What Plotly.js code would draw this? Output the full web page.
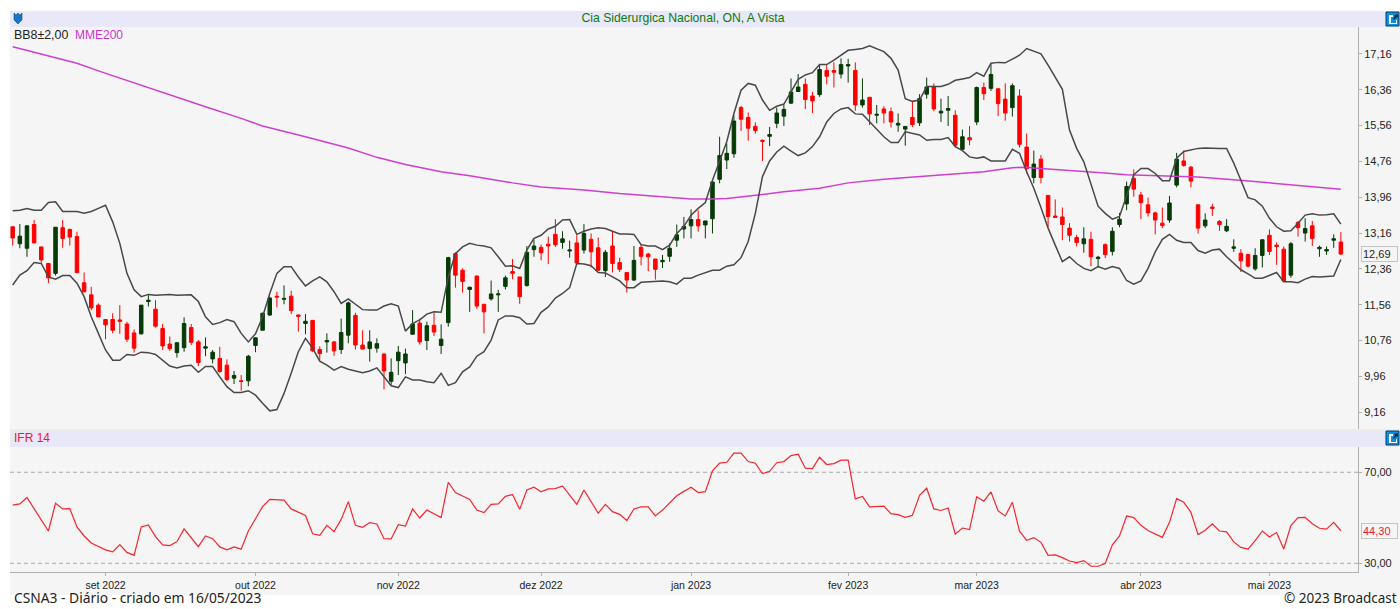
<!DOCTYPE html>
<html><head><meta charset="utf-8">
<script src="https://cdn.plot.ly/plotly-3.0.1.min.js"></script>
<style>html,body{margin:0;padding:0;background:#fff;overflow:hidden}#c{width:1400px;height:609px}</style>
</head><body><div id="c"></div>
<script>
const open=[13.30,12.92,12.82,13.35,12.85,12.48,12.26,13.28,13.24,13.08,
12.05,11.78,11.55,11.23,11.23,11.22,11.13,10.93,10.91,11.63,
11.46,11.03,10.68,10.49,10.60,11.05,10.73,10.59,10.35,10.36,
10.21,9.92,9.86,9.86,10.65,10.99,11.33,11.75,11.68,11.75,
11.33,11.14,11.21,10.56,10.73,10.73,10.56,10.88,11.32,10.66,
10.58,10.59,10.46,9.85,10.31,10.26,10.90,11.15,10.76,11.10,
10.65,11.16,12.70,12.33,11.90,12.20,11.57,11.69,11.78,11.97,
12.30,12.18,11.99,12.79,12.84,12.91,13.13,12.95,12.76,12.94,
12.78,13.02,12.83,12.32,12.87,12.50,12.28,12.11,12.84,12.69,
12.58,12.52,12.64,13.00,13.25,13.32,13.46,13.34,13.48,14.36,
14.79,14.93,15.96,15.74,15.54,15.23,15.32,15.61,15.77,16.06,
16.32,16.48,16.22,16.25,16.79,16.79,16.71,16.89,16.79,16.02,
16.19,15.79,15.93,15.87,15.57,15.48,15.74,15.62,16.26,16.42,
15.84,15.90,15.79,15.03,15.29,15.64,16.41,16.39,16.38,16.15,
15.96,16.22,15.08,14.40,14.81,14.00,13.54,13.52,13.27,13.06,
12.92,13.02,12.59,12.90,12.75,13.35,13.81,14.38,14.01,13.79,
13.61,13.38,13.45,14.23,14.77,14.63,13.79,13.32,13.74,13.42,
13.21,12.82,12.71,12.68,12.36,12.66,13.11,12.89,12.80,12.22,
13.40,13.16,13.32,12.81,12.76,13.00,12.96];
const high=[13.30,13.36,13.34,13.45,12.85,12.48,13.29,13.45,13.26,13.19,
12.28,11.96,11.59,11.23,11.37,11.55,11.18,11.01,11.55,11.78,
11.66,11.13,10.85,10.73,11.28,11.13,10.77,10.83,10.55,10.62,
10.34,10.08,9.99,10.44,10.83,11.38,11.74,11.85,11.99,11.87,
11.34,11.35,11.22,10.63,10.92,10.74,11.25,11.63,11.38,10.99,
10.99,10.81,10.46,10.36,10.64,10.58,11.44,11.25,11.18,11.38,
11.12,12.63,12.73,12.37,11.96,12.21,11.57,12.10,11.89,12.21,
12.58,12.18,12.87,13.02,12.90,13.08,13.47,13.20,12.99,13.11,
13.36,13.15,13.06,12.78,13.19,12.61,12.29,12.87,12.91,12.72,
12.58,12.67,12.93,13.35,13.52,13.69,13.67,13.43,14.33,15.31,
15.16,15.79,16.00,15.85,15.63,15.25,15.53,15.96,16.02,16.61,
16.71,16.61,16.31,16.92,16.91,16.97,17.06,17.05,16.97,16.61,
16.20,16.02,15.99,15.96,15.83,15.55,16.09,16.26,16.63,16.50,
16.16,16.22,15.90,15.47,15.55,16.43,16.52,16.93,16.39,16.50,
16.50,16.37,15.38,15.00,14.90,14.01,13.91,13.73,13.38,13.12,
13.29,13.19,12.65,12.93,13.29,13.61,14.31,14.58,14.08,13.95,
13.64,13.73,13.99,14.95,15.00,14.66,13.79,13.60,13.81,13.45,
13.47,13.02,12.80,12.69,12.82,13.01,13.24,12.95,12.86,12.96,
13.42,13.49,13.43,12.88,12.86,13.13,13.18];
const low=[12.88,12.82,12.63,12.93,12.50,12.04,12.21,12.83,12.88,12.26,
11.83,11.44,11.28,10.79,10.92,10.91,10.73,10.49,10.89,11.52,
11.05,10.55,10.53,10.38,10.51,10.66,10.19,10.41,10.25,10.04,
9.85,9.79,9.64,9.74,10.50,10.99,11.31,11.50,11.57,11.35,
10.96,10.90,10.50,10.32,10.49,10.42,10.46,10.70,10.56,10.57,
10.29,10.49,9.67,9.77,9.99,10.01,10.90,10.67,10.55,10.86,
10.46,11.07,11.94,11.83,11.40,11.47,10.92,11.65,11.40,11.90,
12.13,11.58,11.96,12.63,12.55,12.47,12.85,12.81,12.61,12.48,
12.70,12.39,12.32,12.18,12.28,12.29,11.83,12.09,12.44,12.31,
12.12,12.38,12.52,12.85,13.04,13.04,13.19,13.04,13.15,14.27,
14.59,14.84,15.44,15.22,15.38,14.77,15.10,15.50,15.55,16.04,
16.31,15.93,15.84,16.20,16.48,16.41,16.61,16.52,15.89,15.96,
15.57,15.61,15.61,15.52,15.42,15.11,15.53,15.55,16.16,15.88,
15.64,15.55,15.07,15.01,15.12,15.57,16.13,16.33,15.77,15.67,
15.76,15.07,14.49,14.27,14.27,13.29,13.51,13.00,12.97,12.86,
12.72,12.42,12.39,12.60,12.66,13.29,13.67,13.97,13.47,13.53,
13.13,13.27,13.39,14.18,14.64,14.18,13.15,13.27,13.54,13.21,
13.18,12.74,12.29,12.39,12.32,12.39,12.67,12.45,12.07,12.16,
13.08,12.97,12.87,12.63,12.67,12.83,12.67];
const close=[13.05,13.09,13.32,12.94,12.56,12.16,13.29,13.04,13.07,12.28,
11.85,11.49,11.29,11.11,10.99,11.19,10.79,10.59,11.55,11.66,
11.08,10.64,10.58,10.71,11.14,10.72,10.27,10.62,10.50,10.07,
9.89,9.98,9.85,10.41,10.82,11.37,11.71,11.73,11.70,11.43,
11.30,11.19,10.53,10.47,10.76,10.53,10.94,11.60,10.66,10.57,
10.73,10.69,10.08,10.05,10.50,10.46,11.13,10.73,11.09,10.95,
10.79,12.61,12.22,12.08,11.95,11.53,11.40,11.80,11.80,12.16,
12.26,11.74,12.73,12.87,12.72,12.87,12.90,13.03,12.78,12.49,
13.15,12.74,12.33,12.73,12.48,12.35,12.11,12.55,12.64,12.63,
12.35,12.55,12.82,13.12,13.31,13.46,13.32,13.43,14.30,14.89,
14.94,15.66,15.70,15.50,15.45,15.21,15.36,15.84,15.92,16.31,
16.42,16.14,16.11,16.81,16.66,16.75,16.92,16.92,16.02,16.13,
15.82,15.81,15.84,15.64,15.61,15.54,15.58,16.16,16.42,15.93,
15.88,15.94,15.12,15.31,15.24,16.41,16.27,16.70,16.05,15.84,
16.45,15.14,14.60,14.70,14.40,13.53,13.51,13.35,13.11,12.95,
13.03,12.63,12.62,12.68,13.20,13.47,14.20,14.14,13.84,13.61,
13.45,13.33,13.83,14.81,14.67,14.32,13.27,13.45,13.71,13.35,
13.31,12.85,12.54,12.42,12.66,13.01,12.75,12.86,12.09,12.92,
13.28,13.26,13.04,12.84,12.79,13.03,12.69];
const bbUpper=[13.66,13.67,13.71,13.67,13.67,13.84,13.86,13.64,13.64,13.64,
13.60,13.64,13.71,13.78,13.41,12.93,12.26,11.89,11.74,11.79,
11.77,11.78,11.79,11.77,11.78,11.78,11.63,11.29,11.12,11.16,
11.23,11.18,10.92,10.73,10.91,11.29,11.81,12.26,12.41,12.41,
12.18,11.98,12.09,12.18,12.07,11.85,11.59,11.69,
11.57,11.45,11.44,11.44,11.53,11.58,11.53,10.97,11.14,11.22,
11.35,11.40,11.39,12.18,12.70,12.85,12.93,12.89,12.87,12.83,
12.63,12.42,12.43,12.37,12.78,13.04,13.11,13.25,13.31,13.45,
13.46,13.13,13.20,13.25,13.28,13.26,13.20,13.14,13.14,13.13,
12.90,12.87,12.87,12.79,12.89,13.15,13.31,13.56,
13.71,13.84,14.34,14.75,15.20,15.83,16.35,16.50,16.46,16.13,
15.90,15.99,16.04,16.31,16.59,16.69,16.74,16.92,16.92,17.02,
17.13,17.24,17.26,17.28,17.34,17.28,17.21,17.06,16.80,16.16,
16.10,16.13,16.43,16.43,16.43,16.48,16.57,16.60,16.63,16.74,
16.66,16.95,16.97,16.96,17.04,17.13,17.28,17.22,17.16,16.91,
16.65,16.37,15.46,15.05,14.75,14.27,13.76,13.60,13.47,13.53,
14.01,14.46,14.60,14.60,14.49,14.33,14.33,14.83,14.98,15.01,
15.05,15.06,15.05,15.05,15.05,14.72,14.34,13.95,13.90,13.76,
13.49,13.30,13.20,13.21,13.38,13.56,13.59,13.56,13.57,13.59,13.36];
const bbLower=[12.00,12.22,12.32,12.50,12.48,12.18,12.13,12.21,12.21,12.04,
11.74,11.29,10.92,10.55,10.32,10.32,10.45,10.43,10.50,10.49,
10.45,10.31,10.19,10.15,10.19,10.21,10.05,10.18,10.18,9.95,
9.73,9.60,9.60,9.64,9.54,9.36,9.19,9.22,9.58,10.03,
10.51,10.81,10.59,10.30,10.21,10.10,10.18,10.12,
10.08,10.04,10.08,10.15,9.95,9.75,9.71,9.95,9.88,9.88,
9.84,9.82,10.03,9.76,9.82,10.06,10.17,10.41,10.51,10.77,
11.22,11.31,11.31,11.27,11.13,11.14,11.39,11.51,11.71,11.81,
11.94,12.48,12.47,12.43,12.28,12.27,12.18,12.09,11.94,11.94,
12.06,12.07,12.08,12.09,12.07,12.02,12.15,12.15,
12.22,12.28,12.33,12.33,12.42,12.45,12.61,12.97,13.60,14.42,
14.77,14.97,15.10,14.99,14.89,14.95,15.09,15.31,15.64,15.83,
15.93,15.96,15.82,15.81,15.64,15.46,15.31,15.18,15.18,15.42,
15.38,15.35,15.23,15.25,15.25,15.29,15.09,15.00,14.86,14.83,
14.86,14.77,14.77,14.77,15.03,14.94,14.53,14.16,13.73,13.27,
12.89,12.52,12.63,12.48,12.37,12.32,12.41,12.35,12.41,12.37,
12.10,12.02,12.09,12.37,12.74,13.02,13.13,13.00,12.95,12.95,
12.77,12.71,12.78,12.80,12.63,12.48,12.34,12.25,12.15,12.15,
12.22,12.28,12.07,12.07,12.05,12.13,12.19,12.18,12.19,12.20,12.57];
const emaDays=[0,6,9,12,17,22,27,32,35,41,47,51,55,60,64,70,74,80,85,90,95,98,100,105,108,113,117,122,127,131,136,140,142,143,147,152,156,161,166,171,176,180,184,186];
const ema200=[17.32,17.08,16.95,16.78,16.51,16.25,15.98,15.72,15.55,15.31,15.06,14.85,14.69,14.53,14.44,14.28,14.19,14.12,14.04,13.98,13.92,13.92,13.93,14.02,14.08,14.16,14.28,14.36,14.42,14.48,14.53,14.62,14.63,14.61,14.57,14.51,14.46,14.43,14.41,14.35,14.28,14.22,14.18,14.14];
const ifr14=[55.6,56.1,58.9,54.2,49.1,44.2,56.4,53.9,54.0,46.0,
42.0,38.9,37.3,35.9,35.0,38.2,34.8,33.5,46.0,46.9,
41.7,38.1,37.8,39.5,45.1,41.3,37.3,42.0,40.8,37.2,
35.9,37.2,36.2,44.2,49.8,54.9,58.1,58.1,57.8,53.9,
52.3,51.0,43.0,42.3,46.7,43.9,49.3,57.1,46.7,45.8,
47.9,47.3,40.8,40.7,47.0,46.4,53.9,49.9,53.4,51.8,
50.1,65.6,61.1,59.6,58.1,53.4,52.3,55.9,56.1,59.4,
60.2,53.7,62.2,63.4,61.4,62.7,62.8,64.0,60.2,55.9,
62.2,57.0,52.0,55.9,52.7,51.5,48.8,53.9,54.8,54.8,
50.8,53.4,56.4,59.7,61.6,63.4,61.1,61.5,70.6,74.0,
74.4,78.4,78.4,74.7,74.0,69.4,70.4,74.2,74.7,77.3,
77.9,71.8,71.6,76.6,73.4,73.8,75.3,75.3,58.3,59.4,
54.8,54.8,55.1,51.8,51.4,50.2,51.1,59.9,63.0,53.9,
53.2,54.3,42.8,45.5,44.8,59.3,57.3,61.4,53.0,50.8,
56.8,44.1,40.1,41.3,39.2,33.5,33.7,32.5,31.0,30.3,
31.2,28.7,28.7,29.9,38.1,42.0,50.8,50.1,46.7,44.4,
42.8,41.4,48.0,58.4,56.8,52.4,42.6,44.5,47.3,44.2,
43.8,39.4,37.0,36.2,40.0,44.2,41.6,43.5,36.3,46.6,
50.1,50.2,47.4,45.4,45.0,48.0,44.3];
const priceTicks=[17.16,16.36,15.56,14.76,13.96,13.16,12.36,11.56,10.76,9.96,9.16];
const priceLabels=["17,16","16,36","15,56","14,76","13,96","13,16","12,36","11,56","10,76","9,96","9,16"];
const ifrTicks=[70,30];
const ifrLabels=["70,00","30,00"];
const monthDays=[13,34,54,74,95,117,135,158,176];
const monthLabels=["set 2022","out 2022","nov 2022","dez 2022","jan 2023","fev 2023","mar 2023","abr 2023","mai 2023"];

const days=open.map((_,i)=>i);
const W=1400,H=609;
const px=x=>x/W, py=y=>1-y/H;
const UI='"Liberation Sans",Arial,sans-serif';
const AX='#b0b0b0';

const rect=(x0,y0,x1,y1,fill,line)=>({type:'rect',xref:'paper',yref:'paper',x0:px(x0),x1:px(x1),y0:py(y0),y1:py(y1),fillcolor:fill,line:{width:line?1:0,color:line||fill},layer:'below'});
const poly=(pts,fill,lineCol,lw)=>({type:'path',xref:'paper',yref:'paper',layer:'above',
  path:'M'+pts.map(p=>px(p[0]).toFixed(5)+','+py(p[1]).toFixed(5)).join('L')+'Z',fillcolor:fill,line:{width:lw||0,color:lineCol||fill}});
const exportIcon=y=>[
  Object.assign(rect(1386,y,1399,y+14,'#0a90e0','#0d3b66'),{layer:'above'}),
  poly([[1389,y+3],[1393,y+3],[1393,y+5],[1391,y+5],[1391,y+11],[1396,y+11],[1396,y+8],[1397,y+8],[1397,y+12],[1389,y+12]],'#ffffff'),
  poly([[1393,y+7],[1395,y+4],[1394,y+3],[1398,y+2],[1398,y+6],[1397,y+5],[1394,y+8]],'#10304d')
];
const dashed=v=>({type:'line',xref:'paper',yref:'y2',x0:px(10),x1:px(1358),y0:v,y1:v,line:{color:'#a8a8a8',width:1,dash:'4px,3px'},layer:'below'});

const traces=[
 {type:'scatter',mode:'lines',x:emaDays,y:ema200,xaxis:'x',yaxis:'y',line:{color:'#cf3fcf',width:1.5},hoverinfo:'skip'},
 {type:'scatter',mode:'lines',x:days,y:bbUpper,xaxis:'x',yaxis:'y',line:{color:'#484848',width:1.5},hoverinfo:'skip'},
 {type:'scatter',mode:'lines',x:days,y:bbLower,xaxis:'x',yaxis:'y',line:{color:'#484848',width:1.5},hoverinfo:'skip'},
 {type:'candlestick',x:days,open:open,high:high,low:low,close:close,xaxis:'x',yaxis:'y',whiskerwidth:0,
  increasing:{line:{color:'#063a06',width:1},fillcolor:'#063a06'},
  decreasing:{line:{color:'#ff0000',width:1},fillcolor:'#ff0000'},hoverinfo:'skip'},
 {type:'scatter',mode:'lines',x:days,y:ifr14,xaxis:'x',yaxis:'y2',line:{color:'#f5262e',width:1.2},hoverinfo:'skip'}
];

const note=(text,x,y,color,size,anchor,extra)=>Object.assign({text,xref:'paper',yref:'paper',x:px(x),y:py(y),xanchor:anchor||'left',yanchor:'middle',showarrow:false,
  font:{family:UI,size:size||12,color:color||'#222'}},extra||{});

const layout={
 width:W,height:H,margin:{l:0,r:0,t:0,b:0,pad:0},paper_bgcolor:'#ffffff',plot_bgcolor:'rgba(0,0,0,0)',showlegend:false,hovermode:false,
 title:{text:'Cia Siderurgica Nacional, ON, A Vista',x:px(683),xanchor:'center',y:py(18),yanchor:'middle',xref:'paper',yref:'paper',font:{family:UI,size:12.2,color:'#0a7a0a'}},
 xaxis:{domain:[px(10),px(1358)],range:[-0.378,188.4],anchor:'y2',tickmode:'array',tickvals:monthDays,ticktext:monthLabels,ticks:'outside',ticklen:3,tickcolor:AX,
   showgrid:false,zeroline:false,showline:true,linecolor:AX,linewidth:1,rangeslider:{visible:false},tickfont:{family:UI,size:10.5,color:'#222'},automargin:false},
 yaxis:{domain:[py(429),py(27)],range:[8.785,17.76],side:'right',anchor:'x',tickmode:'array',tickvals:priceTicks,ticktext:priceLabels,ticks:'outside',ticklen:3,tickcolor:AX,
   showgrid:false,zeroline:false,showline:true,linecolor:AX,linewidth:1,tickfont:{family:UI,size:11,color:'#222'},automargin:false},
 yaxis2:{domain:[py(572),py(447)],range:[26.18,81.1],side:'right',anchor:'x',tickmode:'array',tickvals:ifrTicks,ticktext:ifrLabels,ticks:'outside',ticklen:3,tickcolor:AX,
   showgrid:false,zeroline:false,showline:true,linecolor:AX,linewidth:1,tickfont:{family:UI,size:11,color:'#222'},automargin:false},
 shapes:[
  rect(10,11,1400,595,'#f5f5f5'),
  rect(10,11,1400,27,'#e8e8f8'),
  rect(10,431,1400,447,'#e8e8f8'),
  rect(10,429,1400,431,'#ececec'),
  dashed(70),dashed(30),
  poly([[14,13],[16,15],[18,13],[20,15],[22,13],[22,20],[18,24],[14,20]],'#1878c8','#0d3b66',0.5),
  ...exportIcon(12),...exportIcon(431)
 ],
 annotations:[
  note('BB8±2,00',12,35,'#222',12.4),
  note('MME200',73,35,'#cc33cc',12),
  note('IFR 14',12,438,'#e8202a',12),
  note('CSNA3 - Diário - criado em 16/05/2023',12,609,'#222',14,'left',{yanchor:'bottom',font:{family:'"Noto Sans",sans-serif',size:13.8,color:'#222'}}),
  note('© 2023 Broadcast',1399,609,'#222',14,'right',{yanchor:'bottom',font:{family:'"Noto Sans",sans-serif',size:13.5,color:'#222'}}),
  note('12,69',1361,254,'#222',11,'left',{bordercolor:'#c4c4c4',borderwidth:1,borderpad:1,bgcolor:'#f5f5f5',width:33,align:'left'}),
  note('44,30',1361,531,'#f02030',11,'left',{bordercolor:'#c4c4c4',borderwidth:1,borderpad:1,bgcolor:'#f5f5f5',width:33,align:'left'})
 ]
};
Plotly.newPlot('c',traces,layout,{displayModeBar:false,staticPlot:true,responsive:false});
</script></body></html>
